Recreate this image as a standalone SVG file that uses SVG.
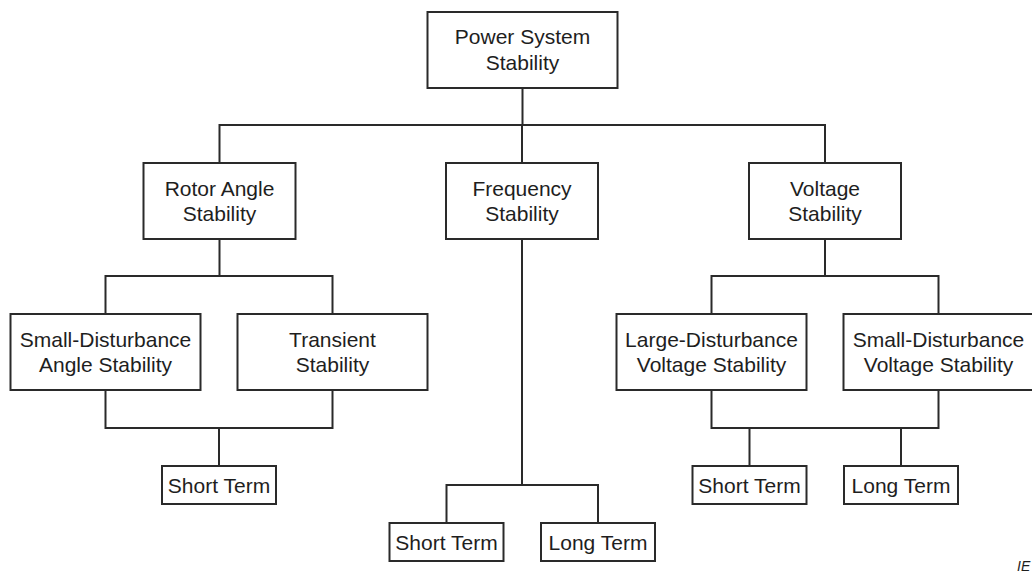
<svg xmlns="http://www.w3.org/2000/svg" width="1032" height="572" viewBox="0 0 1032 572">
<style>
.box{fill:#fff;stroke:#2a2a2a;stroke-width:2}
.c{fill:none;stroke:#2a2a2a;stroke-width:2}
text{font-family:"Liberation Sans",Arial,sans-serif;font-size:21px;fill:#1e1e1e;text-anchor:middle}
.note{font-size:14px;font-style:italic;text-anchor:start}
</style>
<rect width="1032" height="572" fill="#fff"/>
<g id="connectors">
<path class="c" d="M522.5 88V125M219.5 163V125H825V163M522 125V163"/>
<path class="c" d="M219.5 239V276M105.5 314V276H332.5V314"/>
<path class="c" d="M105.5 390V428H332.5V390M219 428V466"/>
<path class="c" d="M522 239V485M446.5 523V485H598V523"/>
<path class="c" d="M825 239V276M711.5 314V276H938.5V314"/>
<path class="c" d="M711.5 390V428H938.5V390M749.5 428V466M901 428V466"/>
</g>
<g id="power"><rect class="box" x="427.5" y="12" width="190" height="76"/><text x="522.5" y="44">Power System</text><text x="522.5" y="69.5">Stability</text></g>
<g id="rotor"><rect class="box" x="143.5" y="163" width="152" height="76"/><text x="219.5" y="196">Rotor Angle</text><text x="219.5" y="221">Stability</text></g>
<g id="frequency"><rect class="box" x="446" y="163" width="152" height="76"/><text x="522" y="196">Frequency</text><text x="522" y="221">Stability</text></g>
<g id="voltage"><rect class="box" x="749" y="163" width="152" height="76"/><text x="825" y="196">Voltage</text><text x="825" y="221">Stability</text></g>
<g id="sda"><rect class="box" x="10.5" y="314" width="190" height="76"/><text x="105.5" y="347">Small-Disturbance</text><text x="105.5" y="372">Angle Stability</text></g>
<g id="transient"><rect class="box" x="237.5" y="314" width="190" height="76"/><text x="332.5" y="347">Transient</text><text x="332.5" y="372">Stability</text></g>
<g id="ldv"><rect class="box" x="616.5" y="314" width="190" height="76"/><text x="711.5" y="347">Large-Disturbance</text><text x="711.5" y="372">Voltage Stability</text></g>
<g id="sdv"><rect class="box" x="843.5" y="314" width="190" height="76"/><text x="938.5" y="347">Small-Disturbance</text><text x="938.5" y="372">Voltage Stability</text></g>
<g id="st-angle"><rect class="box" x="162" y="466" width="114" height="38"/><text x="219" y="492.5">Short Term</text></g>
<g id="st-freq"><rect class="box" x="389.5" y="523" width="114" height="38"/><text x="446.5" y="549.5">Short Term</text></g>
<g id="lt-freq"><rect class="box" x="541" y="523" width="114" height="38"/><text x="598" y="549.5">Long Term</text></g>
<g id="st-volt"><rect class="box" x="692.5" y="466" width="114" height="38"/><text x="749.5" y="492.5">Short Term</text></g>
<g id="lt-volt"><rect class="box" x="844" y="466" width="114" height="38"/><text x="901" y="492.5">Long Term</text></g>
<text class="note" x="1017" y="571">IE</text>
</svg>
